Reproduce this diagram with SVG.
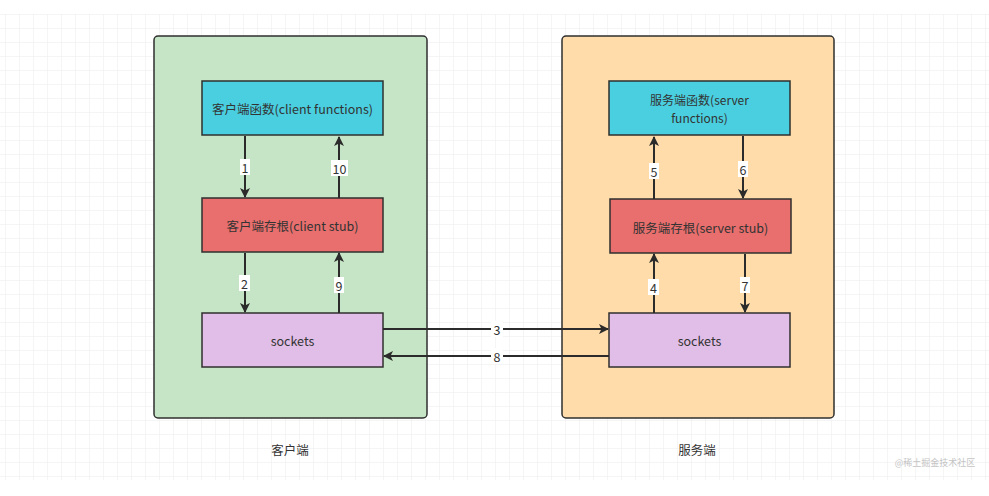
<svg xmlns="http://www.w3.org/2000/svg" width="989" height="496" viewBox="0 0 989 496">
<defs>
<pattern id="grid" x="5" y="14" width="14" height="14" patternUnits="userSpaceOnUse">
<path d="M14 0H0V14" fill="none" stroke="#ebebeb" stroke-width="1"/>
</pattern>
<marker id="ah" viewBox="0 0 10 10" refX="9" refY="5" markerWidth="5" markerHeight="5" orient="auto" markerUnits="strokeWidth">
<path d="M0 0L10 5L0 10L2.5 5Z" fill="#2b2b2b"/>
</marker>
</defs>
<style>
text{font-family:"Noto Sans CJK SC","Noto Sans",sans-serif;font-size:12.5px;fill:#333;text-anchor:middle;dominant-baseline:central}
.box{stroke:#2f2f2f;stroke-width:1.5}
.fn{fill:#49cfe0}
.stub{fill:#e86f6d}
.sock{fill:#e1bee7}
.con{fill:none;stroke:#2b2b2b;stroke-width:2;marker-end:url(#ah)}
.lbl{fill:#fff}
</style>
<rect x="0" y="0" width="989" height="496" fill="#fff"/>
<rect x="0" y="14" width="989" height="466" fill="url(#grid)"/>

<g id="client">
<rect x="154" y="36" width="273" height="382" rx="4" fill="#c6e5c6" class="box"/>
</g>
<g id="server">
<rect x="562" y="36" width="272" height="382" rx="4" fill="#ffdcaa" class="box"/>
</g>

<g id="client-functions">
<rect x="202" y="81" width="181" height="54" class="box fn"/>
<text x="292.5" y="108">客户端函数(client functions)</text>
</g>
<g id="client-stub">
<rect x="202" y="198" width="181" height="54" class="box stub"/>
<text x="292.5" y="225">客户端存根(client stub)</text>
</g>
<g id="client-sockets">
<rect x="202" y="313" width="181" height="54" class="box sock"/>
<text x="292.5" y="340">sockets</text>
</g>

<g id="server-functions">
<rect x="609" y="81" width="181" height="54" class="box fn"/>
<text x="699.5" y="99" style="font-size:12px">服务端函数(server<tspan x="699.5" dy="17.8">functions)</tspan></text>
</g>
<g id="server-stub">
<rect x="610" y="199" width="181" height="54" class="box stub"/>
<text x="700.5" y="227">服务端存根(server stub)</text>
</g>
<g id="server-sockets">
<rect x="609" y="313" width="181" height="54" class="box sock"/>
<text x="699.5" y="340">sockets</text>
</g>

<g id="connectors">
<path class="con" d="M245 136V197"/>
<path class="con" d="M339 198V137"/>
<path class="con" d="M245 253V312"/>
<path class="con" d="M339 313V253"/>
<path class="con" d="M383 329H608"/>
<path class="con" d="M609 356H384"/>
<path class="con" d="M654 199V137"/>
<path class="con" d="M743 136V198"/>
<path class="con" d="M654 313V254"/>
<path class="con" d="M745 254V312"/>

<rect class="lbl" x="240" y="159" width="10" height="16"/>
<text x="245" y="167">1</text>
<rect class="lbl" x="331" y="160" width="17" height="16"/>
<text x="339.5" y="168">10</text>
<rect class="lbl" x="239" y="275" width="11" height="16"/>
<text x="244.5" y="283">2</text>
<rect class="lbl" x="334" y="277" width="10" height="16"/>
<text x="339" y="285">9</text>
<rect class="lbl" x="491" y="321" width="12" height="16"/>
<text x="497" y="329">3</text>
<rect class="lbl" x="491" y="348" width="12" height="16"/>
<text x="497" y="356">8</text>
<rect class="lbl" x="649" y="163" width="10" height="16"/>
<text x="654" y="171">5</text>
<rect class="lbl" x="738" y="161" width="10" height="16"/>
<text x="743" y="169">6</text>
<rect class="lbl" x="648" y="279" width="11" height="16"/>
<text x="653.5" y="287">4</text>
<rect class="lbl" x="740" y="277" width="10" height="16"/>
<text x="745" y="285">7</text>
</g>

<text x="290" y="449">客户端</text>
<text x="697" y="449">服务端</text>
<text x="935" y="462" style="font-size:9px;fill:#c4c4c4">@稀土掘金技术社区</text>
</svg>
